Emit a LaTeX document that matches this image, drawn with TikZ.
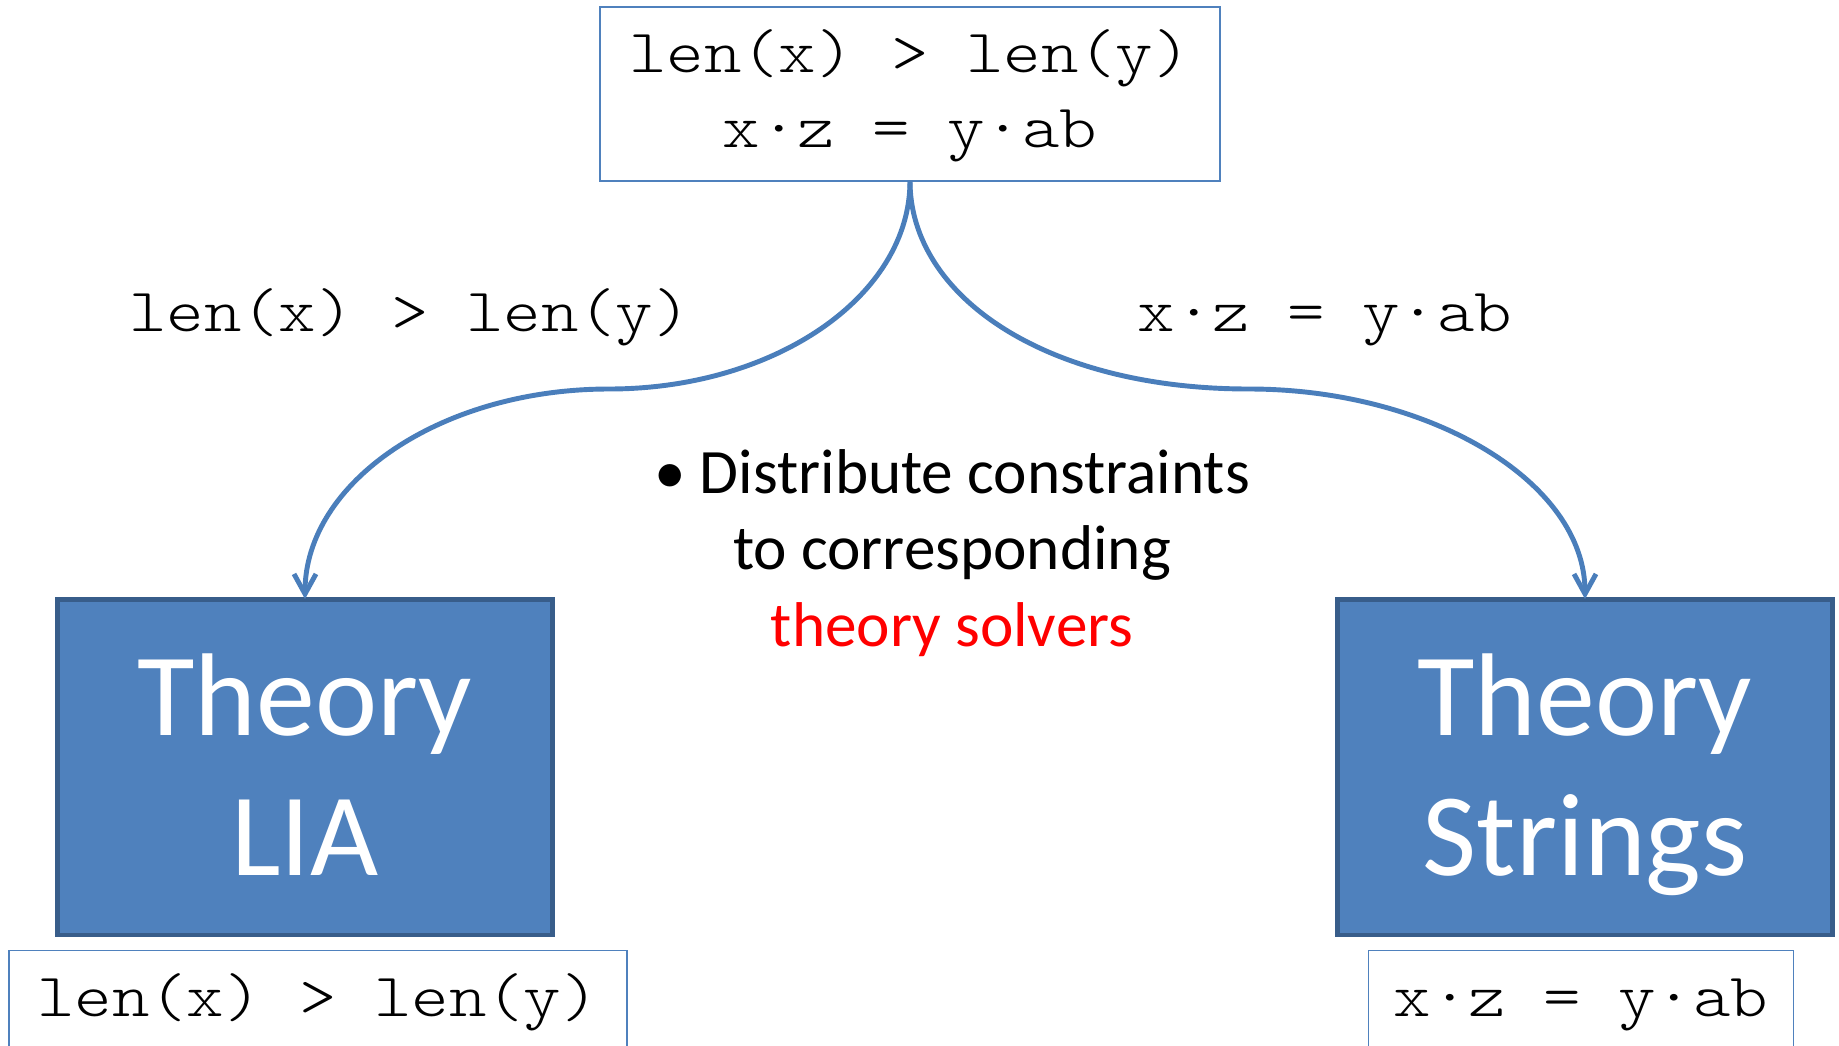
\documentclass[tikz,border=0pt]{standalone}
\usepackage{fontspec}
\setmainfont{Carlito}
\newfontfamily\codefont[FakeStretch=1.16]{lmmonolt10-regular.otf}
\usepackage{xcolor}
\usepackage{tikz}
\usetikzlibrary{arrows.meta}
\definecolor{boxblue}{HTML}{4F81BD}
\definecolor{boxedge}{HTML}{385D8A}
\definecolor{linkblue}{HTML}{4A7EBB}

\begin{document}
\begin{tikzpicture}[
x=0.02cm,
y=-0.02cm,
every node/.style={inner sep=0pt,outer sep=0pt},
code/.style={font=\codefont\fontsize{35}{42.7}\selectfont},
constraint/.style={code,rectangle,draw=boxblue,line width=1pt,fill=white,align=center},
solver/.style={rectangle,draw=boxedge,line width=2.8pt,fill=boxblue,text=white,align=center,font=\fontsize{67}{79.7}\selectfont,text width=9.9cm,minimum height=6.72cm,text height=1.92cm,text depth=3.2cm},
arr/.style={-{Straight Barb[length=4mm,width=4.4mm]},draw=linkblue,line width=2.8pt},
note/.style={align=center,font=\fontsize{36}{43.5}\selectfont}
]
\useasboundingbox (0,0) rectangle (1839,1045);
\clip (0,0) rectangle (1839,1045);

\node[constraint,minimum width=12.4cm,minimum height=3.48cm,text height=2.3cm,text depth=0.14cm] (allcons) at (910,94) {len(x) > len(y)\\x·z = y·ab};

\node[code,anchor=base] (lenlbl) at (410,331) {len(x) > len(y)};
\node[code,anchor=base] (wordlbl) at (1325,331) {x·z = y·ab};

\node[solver] (lia) at (305,767) {Theory\\LIA};
\node[solver] (strings) at (1585,767) {Theory\\Strings};

\node[note,anchor=base] (distrib) at (952,646) {\textbullet\ Distribute constraints\\to corresponding\\\textcolor{red}{theory solvers}};

\node[constraint,minimum width=12.36cm,minimum height=2.98cm,text height=0.8cm,text depth=1.14cm] (liacons) at (318,1025) {len(x) > len(y)};
\node[constraint,minimum width=8.5cm,minimum height=2.98cm,text height=0.8cm,text depth=1.14cm] (strcons) at (1581,1025) {x·z = y·ab};

\draw[arr] (allcons.south) .. controls (910,296) and (775,389) .. (609,389) .. controls (441,389) and (305,482) .. (lia.north);
\draw[arr] (allcons.south) .. controls (910,296) and (1045,389) .. (1249,389) .. controls (1430,389) and (1585,482) .. (strings.north);
\end{tikzpicture}
\end{document}
